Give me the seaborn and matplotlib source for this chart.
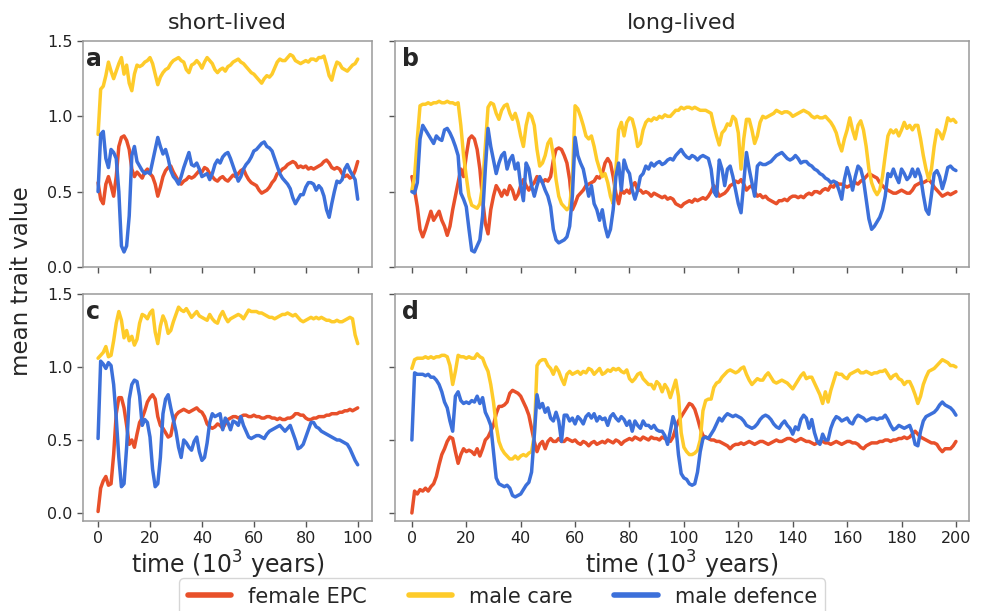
import matplotlib
matplotlib.use("Agg")
import matplotlib.pyplot as plt
import pandas as pd
import seaborn as sns
from matplotlib.lines import Line2D

# time axes (10^3 years)
time_short = list(range(0, 101))
time_long = list(range(0, 201))

# panel a: short-lived
a_epc = [
    .56, .45, .42, .55, .60, .54, .47, .60, .80, .86,
    .87, .84, .78, .65, .60, .63, .61, .59, .63, .65,
    .62, .60, .55, .47, .53, .60, .64, .66, .67, .63,
    .60, .57, .55, .57, .58, .60, .59, .60, .62, .64,
    .63, .66, .65, .62, .60, .58, .57, .59, .60, .58,
    .57, .59, .61, .60, .62, .64, .65, .61, .58, .56,
    .55, .54, .51, .49, .50, .51, .53, .56, .58, .62,
    .63, .65, .66, .68, .69, .70, .69, .66, .67, .66,
    .67, .65, .66, .65, .66, .67, .68, .70, .71, .69,
    .66, .65, .66, .65, .62, .60, .61, .59, .60, .64,
    .70]
a_care = [
    .88, 1.18, 1.20, 1.27, 1.36, 1.30, 1.25, 1.30, 1.35, 1.39,
    1.28, 1.34, 1.22, 1.17, 1.28, 1.34, 1.33, 1.34, 1.36, 1.37,
    1.39, 1.35, 1.28, 1.21, 1.26, 1.29, 1.31, 1.32, 1.35, 1.37,
    1.38, 1.39, 1.37, 1.36, 1.31, 1.29, 1.34, 1.35, 1.37, 1.35,
    1.32, 1.36, 1.39, 1.37, 1.35, 1.31, 1.29, 1.31, 1.32, 1.30,
    1.33, 1.34, 1.36, 1.37, 1.38, 1.36, 1.35, 1.33, 1.31, 1.29,
    1.28, 1.26, 1.24, 1.22, 1.25, 1.27, 1.26, 1.28, 1.32, 1.36,
    1.38, 1.37, 1.37, 1.39, 1.41, 1.40, 1.37, 1.36, 1.35, 1.36,
    1.37, 1.36, 1.38, 1.38, 1.37, 1.39, 1.39, 1.40, 1.34, 1.27,
    1.24, 1.31, 1.36, 1.35, 1.32, 1.31, 1.30, 1.32, 1.34, 1.35,
    1.38]
a_defence = [
    .50, .88, .90, .72, .66, .78, .76, .72, .50, .14,
    .10, .14, .34, .74, .80, .70, .67, .64, .62, .63,
    .62, .70, .78, .86, .80, .75, .78, .72, .64, .60,
    .58, .55, .60, .66, .71, .76, .68, .67, .69, .65,
    .60, .61, .62, .58, .62, .68, .71, .69, .73, .75,
    .76, .72, .67, .62, .57, .60, .65, .68, .70, .73,
    .77, .78, .80, .82, .83, .80, .79, .77, .72, .67,
    .62, .59, .57, .55, .52, .46, .42, .45, .48, .48,
    .53, .56, .56, .55, .51, .54, .52, .47, .38, .33,
    .42, .50, .57, .56, .58, .65, .68, .64, .61, .58,
    .45]

# panel c: short-lived, second run
c_epc = [
    .01, .17, .22, .25, .19, .20, .40, .68, .79, .79,
    .72, .60, .47, .50, .45, .54, .62, .65, .70, .76,
    .79, .81, .78, .66, .60, .58, .55, .52, .53, .62,
    .67, .69, .70, .71, .70, .69, .70, .71, .72, .70,
    .69, .66, .61, .59, .58, .59, .61, .60, .58, .61,
    .64, .65, .66, .66, .65, .66, .67, .67, .66, .66,
    .67, .66, .66, .65, .65, .66, .66, .65, .65, .64,
    .65, .64, .64, .65, .65, .66, .68, .68, .67, .67,
    .65, .64, .64, .65, .65, .66, .66, .66, .67, .67,
    .68, .68, .68, .69, .69, .70, .70, .71, .70, .71,
    .72]
c_care = [
    1.06, 1.08, 1.10, 1.14, 1.07, 1.08, 1.18, 1.30, 1.38, 1.32,
    1.20, 1.25, 1.18, 1.21, 1.15, 1.19, 1.30, 1.36, 1.35, 1.33,
    1.37, 1.39, 1.24, 1.16, 1.28, 1.35, 1.31, 1.23, 1.25, 1.31,
    1.36, 1.41, 1.39, 1.38, 1.40, 1.37, 1.34, 1.36, 1.38, 1.35,
    1.34, 1.33, 1.32, 1.36, 1.33, 1.31, 1.30, 1.35, 1.38, 1.34,
    1.31, 1.33, 1.34, 1.35, 1.36, 1.35, 1.33, 1.36, 1.39, 1.38,
    1.38, 1.38, 1.37, 1.37, 1.36, 1.35, 1.34, 1.34, 1.33, 1.34,
    1.35, 1.36, 1.36, 1.37, 1.36, 1.35, 1.36, 1.34, 1.32, 1.31,
    1.32, 1.33, 1.34, 1.33, 1.34, 1.33, 1.34, 1.33, 1.32, 1.32,
    1.31, 1.31, 1.32, 1.31, 1.31, 1.32, 1.33, 1.34, 1.33, 1.22,
    1.16]
c_defence = [
    .51, 1.04, 1.02, .99, 1.03, 1.01, .88, .65, .38, .18,
    .20, .45, .78, .88, .91, .90, .80, .60, .64, .62,
    .52, .30, .18, .20, .38, .68, .78, .81, .72, .64,
    .56, .45, .38, .50, .48, .45, .43, .49, .52, .42,
    .36, .38, .48, .62, .68, .66, .67, .68, .57, .65,
    .62, .57, .63, .62, .60, .66, .60, .56, .52, .51,
    .52, .53, .53, .52, .51, .54, .56, .57, .58, .59,
    .60, .58, .56, .58, .60, .55, .50, .44, .45, .47,
    .52, .57, .62, .62, .59, .58, .56, .55, .54, .53,
    .52, .51, .50, .50, .49, .48, .47, .44, .40, .36,
    .33]

# panel b: long-lived
b_epc = [
    .60, .51, .40, .25, .20, .25, .31, .37, .31, .34,
    .37, .31, .27, .21, .27, .38, .47, .56, .65, .60,
    .74, .85, .87, .85, .78, .65, .45, .29, .22, .38,
    .47, .54, .51, .47, .51, .48, .54, .51, .45, .48,
    .54, .58, .54, .51, .54, .56, .60, .59, .56, .58,
    .57, .60, .71, .78, .79, .78, .74, .69, .58, .38,
    .42, .47, .49, .51, .54, .55, .56, .57, .60, .59,
    .62, .69, .72, .69, .60, .49, .42, .51, .49, .51,
    .49, .54, .56, .51, .51, .49, .50, .49, .47, .49,
    .48, .47, .46, .47, .45, .46, .45, .42, .41, .40,
    .42, .43, .44, .43, .45, .44, .45, .46, .45, .47,
    .50, .54, .51, .47, .48, .49, .51, .54, .55, .57,
    .56, .58, .55, .51, .53, .54, .50, .47, .48, .46,
    .47, .45, .44, .43, .42, .44, .44, .45, .44, .46,
    .47, .47, .46, .47, .46, .48, .49, .48, .50, .50,
    .49, .51, .52, .51, .54, .53, .56, .55, .55, .54,
    .53, .54, .55, .56, .55, .57, .58, .60, .62, .61,
    .60, .59, .56, .54, .52, .51, .50, .49, .49, .50,
    .51, .50, .49, .49, .51, .54, .55, .56, .56, .57,
    .58, .56, .53, .51, .49, .47, .48, .49, .48, .49,
    .50]
b_care = [
    .51, .60, .85, 1.07, 1.08, 1.08, 1.09, 1.08, 1.09, 1.09,
    1.10, 1.09, 1.09, 1.10, 1.09, 1.09, 1.08, 1.09, .94, .74,
    .60, .47, .41, .40, .39, .42, .54, .80, 1.06, 1.09,
    1.08, 1.02, .98, 1.04, 1.07, 1.08, 1.02, .98, 1.02, .96,
    .87, .80, .94, 1.02, 1.00, .94, .78, .67, .69, .74,
    .82, .85, .74, .58, .47, .42, .40, .38, .40, .58,
    1.07, 1.05, 1.00, .94, .87, .85, .87, .80, .71, .65,
    .60, .62, .56, .47, .42, .65, .91, .96, .87, .96,
    .99, .98, .91, .80, .82, .91, .96, .98, .97, .99,
    .98, 1.00, .99, 1.01, 1.00, 1.00, 1.02, 1.04, 1.04, 1.06,
    1.05, 1.06, 1.06, 1.05, 1.06, 1.05, 1.04, 1.04, 1.04, 1.03,
    1.02, .94, .87, .81, .89, .91, .95, .94, 1.00, .98,
    .89, .65, .85, .98, .98, .91, .82, .87, .96, 1.00,
    .99, 1.00, 1.01, 1.02, 1.04, 1.03, 1.02, 1.03, 1.03, 1.02,
    1.00, 1.01, 1.02, 1.03, 1.04, 1.03, 1.02, 1.00, .99, 1.00,
    .99, .99, 1.00, .98, .96, .93, .89, .82, .77, .85,
    .91, .99, .91, .85, .94, .97, .91, .80, .65, .56,
    .51, .48, .51, .60, .74, .87, .91, .89, .91, .87,
    .91, .96, .92, .94, .91, .94, .94, .85, .74, .65,
    .58, .65, .80, .91, .89, .85, .91, .99, .97, .98,
    .96]
b_defence = [
    .50, .49, .56, .85, .94, .91, .88, .85, .82, .87,
    .85, .84, .91, .92, .89, .85, .80, .74, .49, .45,
    .40, .25, .11, .10, .14, .18, .34, .65, .92, .80,
    .71, .62, .69, .74, .76, .65, .71, .74, .65, .69,
    .54, .44, .69, .65, .54, .47, .54, .60, .56, .51,
    .47, .40, .25, .18, .16, .17, .18, .20, .27, .47,
    .86, .74, .69, .65, .56, .47, .54, .42, .38, .31,
    .38, .27, .20, .25, .38, .60, .69, .51, .71, .65,
    .62, .51, .45, .51, .60, .62, .67, .65, .69, .67,
    .69, .70, .68, .69, .71, .72, .71, .74, .76, .78,
    .75, .73, .72, .74, .73, .71, .73, .74, .73, .72,
    .65, .50, .47, .71, .65, .54, .65, .67, .60, .51,
    .42, .36, .56, .76, .65, .56, .47, .67, .69, .68,
    .68, .69, .70, .72, .74, .75, .76, .74, .72, .71,
    .72, .74, .72, .69, .70, .70, .68, .67, .65, .64,
    .62, .61, .59, .58, .56, .57, .56, .51, .45, .58,
    .66, .60, .51, .60, .67, .65, .58, .45, .32, .25,
    .27, .30, .33, .38, .47, .62, .60, .65, .60, .56,
    .65, .62, .58, .60, .65, .60, .65, .60, .48, .38,
    .35, .48, .62, .64, .60, .52, .58, .66, .67, .65,
    .64]

# panel d: long-lived, second run
d_epc = [
    .00, .15, .13, .16, .15, .17, .15, .18, .20, .25,
    .33, .40, .44, .49, .52, .51, .42, .34, .40, .44,
    .42, .43, .42, .40, .44, .39, .44, .50, .52, .56,
    .60, .68, .73, .73, .74, .76, .82, .84, .83, .82,
    .80, .76, .72, .67, .58, .49, .42, .47, .49, .44,
    .49, .51, .49, .49, .51, .49, .49, .51, .50, .49,
    .50, .48, .47, .49, .48, .46, .48, .49, .47, .48,
    .49, .48, .50, .49, .48, .50, .49, .47, .49, .50,
    .51, .50, .52, .51, .50, .52, .51, .50, .52, .51,
    .51, .50, .52, .51, .50, .49, .52, .58, .63, .66,
    .69, .72, .75, .74, .71, .65, .58, .53, .52, .51,
    .50, .50, .49, .49, .48, .47, .46, .44, .46, .47,
    .47, .48, .47, .48, .49, .48, .47, .48, .49, .49,
    .48, .47, .48, .49, .50, .49, .49, .50, .51, .51,
    .50, .49, .50, .51, .50, .49, .49, .48, .47, .48,
    .49, .49, .48, .48, .47, .48, .49, .48, .47, .48,
    .49, .49, .48, .48, .47, .45, .44, .46, .47, .48,
    .48, .48, .49, .49, .50, .50, .49, .50, .50, .51,
    .51, .52, .51, .52, .54, .56, .54, .52, .51, .50,
    .49, .48, .48, .47, .44, .42, .44, .44, .44, .46,
    .49]
d_care = [
    .99, 1.05, 1.06, 1.06, 1.06, 1.07, 1.06, 1.07, 1.06, 1.07,
    1.07, 1.08, 1.08, 1.07, 1.01, .88, .97, 1.08, 1.07, 1.07,
    1.06, 1.07, 1.06, 1.06, 1.09, 1.07, 1.06, 1.01, .97, .88,
    .76, .60, .49, .44, .41, .39, .37, .37, .39, .37,
    .39, .40, .39, .41, .42, .53, 1.01, 1.04, 1.05, 1.05,
    1.01, .99, .95, 1.00, .97, .92, .88, .95, .97, .95,
    .96, .97, .95, .97, .96, .99, .98, .95, .97, .99,
    .95, .96, .98, .97, .99, .98, .99, .97, .96, .98,
    .92, .90, .92, .95, .96, .92, .90, .88, .88, .85,
    .90, .88, .83, .88, .85, .79, .85, .91, .80, .55,
    .45, .42, .40, .40, .41, .43, .50, .70, .77, .78,
    .78, .86, .89, .90, .93, .95, .97, .98, .97, .96,
    .97, .99, 1.00, .95, .91, .88, .90, .92, .91, .91,
    .94, .96, .93, .90, .89, .90, .91, .90, .89, .87,
    .85, .88, .91, .94, .96, .92, .93, .93, .89, .85,
    .81, .75, .83, .76, .84, .90, .96, .95, .95, .93,
    .92, .95, .96, .97, .98, .96, .96, .97, .96, .95,
    .96, .96, .97, .97, .98, .95, .92, .94, .95, .92,
    .91, .88, .90, .90, .86, .81, .75, .80, .88, .93,
    .97, .98, .99, 1.01, 1.03, 1.05, 1.04, 1.03, 1.01, 1.01,
    1.00]
d_defence = [
    .50, .96, .95, .95, .95, .94, .95, .93, .93, .91,
    .88, .83, .76, .72, .63, .56, .80, .83, .77, .75,
    .76, .75, .77, .76, .80, .75, .79, .69, .65, .60,
    .42, .24, .20, .19, .18, .19, .17, .12, .11, .12,
    .13, .16, .19, .21, .28, .53, .81, .72, .75, .69,
    .72, .65, .63, .69, .63, .49, .67, .67, .63, .65,
    .61, .66, .64, .61, .66, .68, .65, .68, .63, .66,
    .64, .65, .60, .66, .68, .65, .63, .66, .64, .60,
    .63, .56, .63, .60, .58, .63, .60, .60, .58, .60,
    .57, .56, .56, .53, .47, .56, .66, .60, .40, .27,
    .24, .23, .20, .19, .20, .28, .42, .51, .52, .51,
    .54, .57, .61, .65, .63, .66, .68, .67, .66, .67,
    .66, .65, .63, .60, .59, .58, .59, .61, .64, .66,
    .67, .66, .64, .61, .59, .58, .61, .63, .60, .58,
    .54, .59, .57, .64, .67, .65, .58, .64, .55, .49,
    .47, .54, .50, .50, .58, .63, .66, .65, .63, .64,
    .65, .62, .61, .65, .67, .66, .65, .63, .64, .65,
    .65, .64, .65, .65, .67, .64, .60, .57, .58, .60,
    .59, .58, .59, .60, .55, .47, .46, .56, .63, .66,
    .67, .68, .69, .71, .74, .76, .74, .73, .72, .70,
    .67]

traits = ["female EPC", "male care", "male defence"]
palette = {"female EPC": "#e8502a", "male care": "#fecb2a", "male defence": "#3c70da"}


def panel_df(time, epc, care, defence):
    n = len(time)
    return pd.DataFrame({
        "time": time * 3,
        "value": epc + care + defence,
        "trait": [traits[0]] * n + [traits[1]] * n + [traits[2]] * n,
    })


sns.set_style("ticks")
plt.rcParams["font.family"] = ["DejaVu Sans"]

W, H = 981, 611
fig = plt.figure(figsize=(W / 100, H / 100), dpi=100)


def box(left, top, right, bottom):
    return [left / W, 1 - bottom / H, (right - left) / W, (bottom - top) / H]


ax_a = fig.add_axes(box(83, 41, 372, 267))
ax_b = fig.add_axes(box(395, 41, 969, 267))
ax_c = fig.add_axes(box(83, 294, 372, 521))
ax_d = fig.add_axes(box(395, 294, 969, 521))

panels = [
    (ax_a, panel_df(time_short, a_epc, a_care, a_defence), "a"),
    (ax_b, panel_df(time_long, b_epc, b_care, b_defence), "b"),
    (ax_c, panel_df(time_short, c_epc, c_care, c_defence), "c"),
    (ax_d, panel_df(time_long, d_epc, d_care, d_defence), "d"),
]

for ax, df, letter in panels:
    sns.lineplot(data=df, x="time", y="value", hue="trait", palette=palette,
                 hue_order=traits, linewidth=2.5, legend=False, ax=ax,
                 estimator=None, sort=False)
    ax.set_xlabel("")
    ax.set_ylabel("")
    for side in ax.spines.values():
        side.set_color("#9a9a9a")
        side.set_linewidth(1.1)
    ax.tick_params(colors="#555555", labelcolor="#222222", labelsize=11.5,
                   length=4, width=1)
    ax.set_yticks([0.0, 0.5, 1.0, 1.5])
    ax.text(0.012, 0.975, letter, transform=ax.transAxes, ha="left", va="top",
            fontsize=17, fontweight="bold")

for ax in (ax_a, ax_c):
    ax.set_xlim(-5.8, 105.5)
    ax.set_xticks(range(0, 101, 20))
for ax in (ax_b, ax_d):
    ax.set_xlim(-6.2, 204.8)
    ax.set_xticks(range(0, 201, 20))
for ax in (ax_a, ax_b):
    ax.set_ylim(0, 1.5)
    ax.tick_params(labelbottom=False)
for ax in (ax_c, ax_d):
    ax.set_ylim(-0.055, 1.5)
    ax.set_xlabel("time (10$^3$ years)", fontsize=17, labelpad=2)
for ax in (ax_b, ax_d):
    ax.tick_params(labelleft=False)

ax_a.set_title("short-lived", fontsize=16, pad=9)
ax_b.set_title("long-lived", fontsize=16, pad=9)
fig.text(0.022, 1 - 281 / H, "mean trait value", rotation=90, ha="center",
         va="center", fontsize=16.5)

handles = [Line2D([], [], color=palette[t], linewidth=4) for t in traits]
fig.legend(handles, traits, loc="upper center", bbox_to_anchor=(0.512, 1 - 568 / H),
           ncol=3, fontsize=15, frameon=True, handlelength=2.1,
           columnspacing=2.0, borderpad=0.4, edgecolor="#cccccc")

fig.savefig("out.png", dpi=100)
